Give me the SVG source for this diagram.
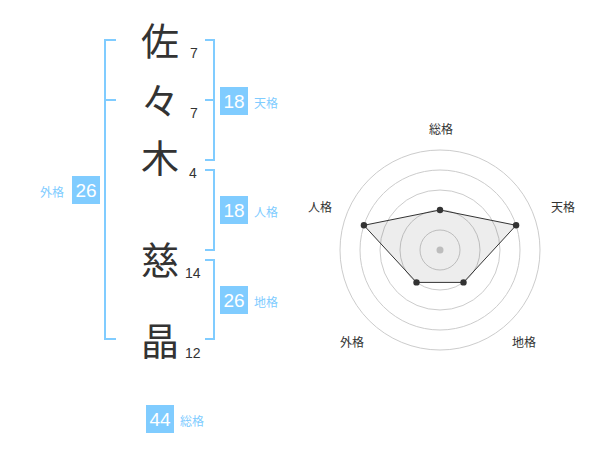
<svg xmlns="http://www.w3.org/2000/svg" width="600" height="470" viewBox="0 0 600 470">
<style>
.kanji{font-family:"Noto Sans CJK JP","Noto Sans CJK SC",sans-serif;font-size:38px;fill:#333;text-anchor:middle}
.num{font-family:"Liberation Sans",Arial,sans-serif;font-size:14px;fill:#333}
.box{fill:#80ccff}
.boxtxt{font-family:"Liberation Sans",Arial,sans-serif;font-size:19px;fill:#fff;text-anchor:middle}
.lbl{font-family:"Noto Sans CJK JP",sans-serif;font-size:12px;fill:#80ccff}
.br{fill:none;stroke:#80ccff;stroke-width:2}
.ring{fill:none;stroke:#ccc;stroke-width:1}
.rl{font-family:"Noto Sans CJK JP",sans-serif;font-size:12px;fill:#333;text-anchor:middle}
.pt{fill:#333}
</style>
<rect width="600" height="470" fill="#fff"/>
<g id="connectors">
<path class="br" d="M116,40 H105 V339 H116 M105,100 H116"/>
<path class="br" d="M205,40 H214 V160 H205 M214,100 H205"/>
<path class="br" d="M205,170 H214 V250 H205"/>
<path class="br" d="M205,260 H214 V339 H205"/>
</g>
<g id="char1"><text class="kanji" x="160" y="55">佐</text><text class="num" x="190" y="58">7</text></g>
<g id="char2"><text class="kanji" x="160" y="115">々</text><text class="num" x="190" y="118">7</text></g>
<g id="char3"><text class="kanji" x="160" y="172">木</text><text class="num" x="189" y="178">4</text></g>
<g id="char4"><text class="kanji" x="160" y="274">慈</text><text class="num" x="185" y="278">14</text></g>
<g id="char5"><text class="kanji" x="160" y="355">晶</text><text class="num" x="185" y="358">12</text></g>
<g id="tenkaku"><rect class="box" x="220" y="87" width="28" height="28"/><text class="boxtxt" x="234" y="108">18</text><text class="lbl" x="254" y="108">天格</text></g>
<g id="jinkaku"><rect class="box" x="220" y="196" width="28" height="28"/><text class="boxtxt" x="234" y="217">18</text><text class="lbl" x="254" y="217">人格</text></g>
<g id="chikaku"><rect class="box" x="220" y="286" width="28" height="28"/><text class="boxtxt" x="234" y="307">26</text><text class="lbl" x="254" y="307">地格</text></g>
<g id="gaikaku"><rect class="box" x="72" y="176" width="28" height="28"/><text class="boxtxt" x="86" y="197">26</text><text class="lbl" x="40" y="197">外格</text></g>
<g id="sokaku"><rect class="box" x="146" y="405" width="28" height="28"/><text class="boxtxt" x="160" y="426">44</text><text class="lbl" x="180" y="426">総格</text></g>
<g id="radar">
<circle class="ring" cx="440" cy="250" r="20"/>
<circle class="ring" cx="440" cy="250" r="40"/>
<circle class="ring" cx="440" cy="250" r="60"/>
<circle class="ring" cx="440" cy="250" r="80"/>
<circle class="ring" cx="440" cy="250" r="100"/>
<circle cx="440" cy="250" r="3.5" fill="#ccc"/>
<polygon points="440,210 516.1,225.3 463.5,282.4 416.5,282.4 363.9,225.3" fill="rgba(0,0,0,0.07)" stroke="#333" stroke-width="1"/>
<circle class="pt" cx="440" cy="210" r="3.2"/>
<circle class="pt" cx="516.1" cy="225.3" r="3.2"/>
<circle class="pt" cx="463.5" cy="282.4" r="3.2"/>
<circle class="pt" cx="416.5" cy="282.4" r="3.2"/>
<circle class="pt" cx="363.9" cy="225.3" r="3.2"/>
<text class="rl" x="441" y="134">総格</text>
<text class="rl" x="563" y="212">天格</text>
<text class="rl" x="320" y="212">人格</text>
<text class="rl" x="352" y="347">外格</text>
<text class="rl" x="524" y="347">地格</text>
</g>
</svg>
